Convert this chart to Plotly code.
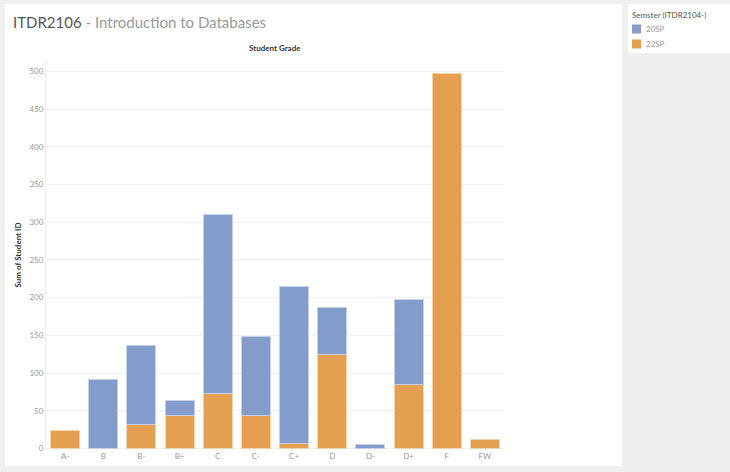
import plotly.graph_objects as go

grades = ["A-", "B", "B-", "B+", "C", "C-", "C+", "D", "D-", "D+", "F", "FW"]
sp20 = [None, 92, 104, 20, 237, 104, 208, 63, 5, 112, None, None]
sp22 = [24, None, 32, 44, 73, 44, 7, 124, None, 85, 497, 12]
series_names = ["20SP", "22SP"]
y_ticks = [0, 50, 100, 150, 200, 250, 300, 350, 400, 450, 500]

BLUE = "#849ccc"
ORANGE = "#e4a050"
FONT = "Lato"

W, H = 730, 472
L, R, T, B = 46, 226, 60, 22

fig = go.Figure()
fig.add_trace(go.Bar(x=grades, y=sp22, name=series_names[1],
                     marker=dict(color=ORANGE, line=dict(color="#f3d2ae", width=1))))
fig.add_trace(go.Bar(x=grades, y=sp20, name=series_names[0],
                     marker=dict(color=BLUE, line=dict(color="#c5d0e8", width=1))))

pw = W - L - R
ph = H - T - B


def px(x):
    return (x - L) / pw


def py(y):
    return (H - B - y) / ph


shapes = [
    dict(type="rect", xref="paper", yref="paper", x0=px(5), x1=px(622), y0=py(466), y1=py(4),
         fillcolor="white", line=dict(width=0), layer="below"),
    dict(type="rect", xref="paper", yref="paper", x0=px(628), x1=px(731), y0=py(53), y1=py(4),
         fillcolor="white", line=dict(width=0), layer="below"),
]

annotations = [
    dict(xref="paper", yref="paper", x=px(11), y=py(22), xanchor="left", yanchor="middle",
         text="<span style='color:#555555'>ITDR2106</span><span style='color:#999999'> - Introduction to Databases</span>",
         showarrow=False, font=dict(family=FONT, size=15)),
    dict(xref="paper", yref="paper", x=0.5, y=py(48), xanchor="center", yanchor="middle",
         text="<b>Student Grade</b>", showarrow=False, font=dict(family=FONT, size=8, color="#333333")),
    dict(xref="paper", yref="paper", x=px(630), y=py(15), xanchor="left", yanchor="middle",
         text="Semster (ITDR2104-)", showarrow=False, font=dict(family=FONT, size=8, color="#555555")),
]

legend_colors = {series_names[0]: BLUE, series_names[1]: ORANGE}
for i, name in enumerate(series_names):
    yc = 29 + 15 * i
    shapes.append(dict(type="rect", xref="paper", yref="paper", x0=px(632), x1=px(641),
                       y0=py(yc + 4.5), y1=py(yc - 4.5), fillcolor=legend_colors[name],
                       line=dict(width=0)))
    annotations.append(dict(xref="paper", yref="paper", x=px(644), y=py(yc), xanchor="left",
                            yanchor="middle", text=name, showarrow=False,
                            font=dict(family=FONT, size=8, color="#999999")))

fig.update_layout(
    width=W, height=H,
    margin=dict(l=L, r=R, t=T, b=B, autoexpand=False),
    paper_bgcolor="#efefef",
    plot_bgcolor="white",
    barmode="stack",
    bargap=0.24,
    showlegend=False,
    shapes=shapes,
    annotations=annotations,
    font=dict(family=FONT, size=8, color="#999999"),
    xaxis=dict(
        showgrid=False, ticks="", tickfont=dict(size=8, color="#999999"),
        showline=False, zeroline=False,
    ),
    yaxis=dict(
        range=[-2, 515], tickvals=y_ticks, showgrid=True, gridcolor="#f0f0f0", gridwidth=1,
        zeroline=False, showline=True, linecolor="#eeeeee", ticks="",
        tickfont=dict(size=8, color="#999999"),
        title=dict(text="<b>Sum of Student ID</b>", font=dict(size=8, color="#333333"), standoff=6),
    ),
)

fig.write_html("out.html")
